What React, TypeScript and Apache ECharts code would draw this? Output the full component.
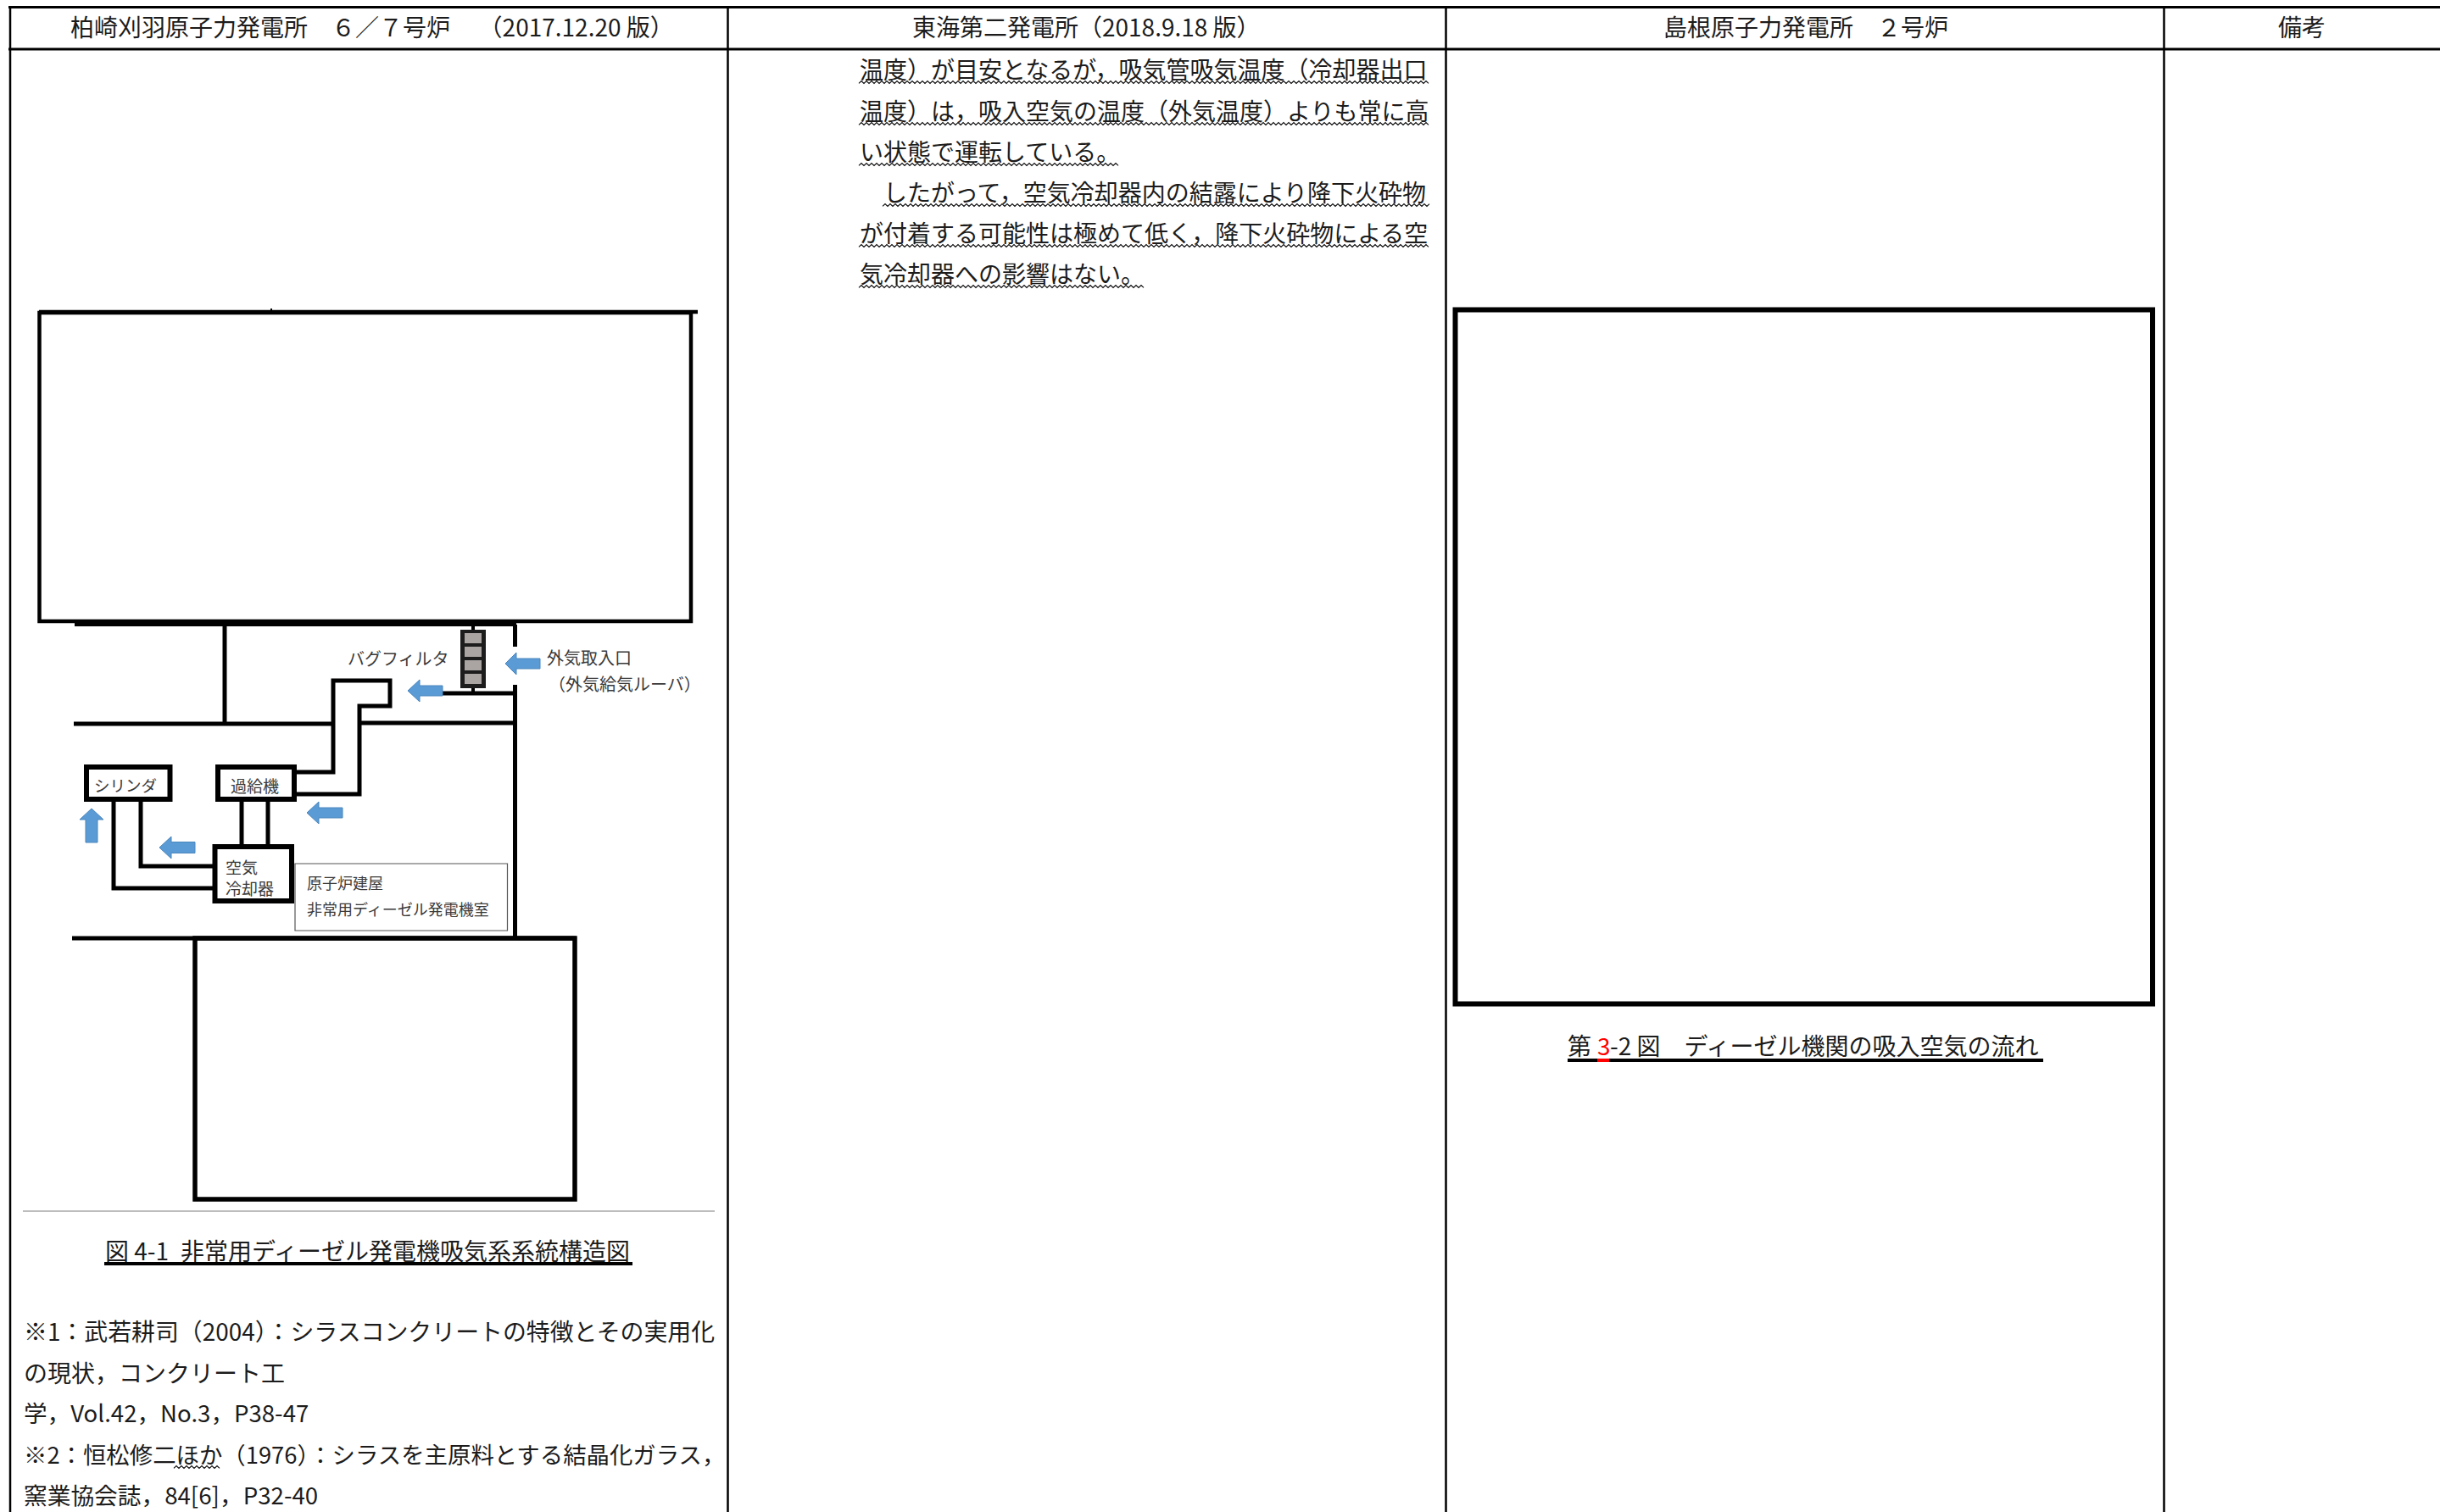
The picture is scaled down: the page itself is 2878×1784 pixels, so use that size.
import React, { useEffect, useRef } from "react";
import * as echarts from "echarts";

const headers = [
  "柏崎刈羽原子力発電所　６／７号炉　\u2009（2017.12.20 版）",
  "東海第二発電所（2018.9.18 版）",
  "島根原子力発電所　２号炉",
  "備考",
];
const tokaiLines = [
  "温度）が目安となるが，吸気管吸気温度（冷却器出口",
  "温度）は，吸入空気の温度（外気温度）よりも常に高",
  "い状態で運転している。",
  "したがって，空気冷却器内の結露により降下火砕物",
  "が付着する可能性は極めて低く，降下火砕物による空",
  "気冷却器への影響はない。",
];
const kkCaption = "図 4-1\u2002非常用ディーゼル発電機吸気系系統構造図";
const kkNotes = [
  "※1：武若耕司（2004）：シラスコンクリートの特徴とその実用化",
  "の現状，コンクリート工",
  "学，Vol.42，No.3，P38-47",
  "※2：恒松修二ほか（1976）：シラスを主原料とする結晶化ガラス，",
  "窯業協会誌，84[6]，P32-40",
];
const shimaneCaption = ["第", "3", "-2 図　ディーゼル機関の吸入空気の流れ"];
const diagramLabels = {
  filter: "バグフィルタ",
  intake: "外気取入口",
  louver: "（外気給気ルーバ）",
  cylinder: "シリンダ",
  turbo: "過給機",
  cooler1: "空気",
  cooler2: "冷却器",
  room1: "原子炉建屋",
  room2: "非常用ディーゼル発電機室",
};

const FONT = '"Noto Sans CJK JP", sans-serif';
const INK = "#1c1c1c";
const BLUE = "#5b9bd5";
const BODY = 28;

type El = Record<string, unknown>;

const txt = (text: string, x: number, y: number, fontSize = BODY, fill = INK): El => ({
  type: "text",
  silent: true,
  style: { text, x, y: y - fontSize * 0.07, fontSize, fontFamily: FONT, fill, align: "left", verticalAlign: "middle" },
});
const ln = (x1: number, y1: number, x2: number, y2: number, lineWidth = 5, stroke = "#000"): El => ({
  type: "line",
  silent: true,
  shape: { x1, y1, x2, y2 },
  style: { stroke, lineWidth },
});
const box = (x1: number, y1: number, x2: number, y2: number, lineWidth = 5, stroke = "#000", fill = "#fff"): El => ({
  type: "rect",
  silent: true,
  shape: { x: x1, y: y1, width: x2 - x1, height: y2 - y1 },
  style: { stroke, lineWidth, fill },
});
const poly = (points: number[][], lineWidth = 5): El => ({
  type: "polyline",
  silent: true,
  shape: { points },
  style: { stroke: "#000", lineWidth, fill: "none", lineJoin: "miter" },
});
const wavy = (x1: number, x2: number, y: number): El => {
  const points: number[][] = [];
  let up = false;
  for (let x = x1; x <= x2; x += 3) {
    points.push([x, y + (up ? -1.4 : 1.4)]);
    up = !up;
  }
  return {
    type: "polyline",
    silent: true,
    shape: { points },
    style: { stroke: "#111", lineWidth: 1.2, fill: "none" },
  };
};
const leftArrow = (tip: number, neck: number, end: number, cy: number, head: number, body: number): El => ({
  type: "polygon",
  silent: true,
  shape: {
    points: [
      [tip, cy],
      [neck, cy - head],
      [neck, cy - body],
      [end, cy - body],
      [end, cy + body],
      [neck, cy + body],
      [neck, cy + head],
    ],
  },
  style: { fill: BLUE, stroke: "#4a86bd", lineWidth: 1 },
});

function buildElements(): El[] {
  const els: El[] = [];

  // table rules
  els.push(ln(10, 8.5, 2878, 8.5, 3));
  els.push(ln(10, 58, 2878, 58, 3));
  [12, 858.5, 1705.5, 2552.5].forEach((x) => els.push(ln(x, 8, x, 1784, 2.5)));

  // header texts
  els.push(txt(headers[0], 83, 33));
  els.push(txt(headers[1], 1076, 33));
  els.push(txt(headers[2], 1962, 33));
  els.push(txt(headers[3], 2687, 33));

  // middle column
  const tokaiY = [83, 132, 180, 228, 276, 324];
  const tokaiX = [1014, 1014, 1014, 1042, 1014, 1014];
  const waveEnd = [1686, 1685, 1321, 1686, 1686, 1350];
  tokaiLines.forEach((t, i) => {
    els.push(txt(t, tokaiX[i], tokaiY[i]));
    els.push(wavy(tokaiX[i] - 1, waveEnd[i], tokaiY[i] + 14));
  });

  // left column: upper and lower masked boxes
  els.push(box(46.5, 369, 815, 733, 4.5));
  els.push(ln(46, 368, 823, 368, 4.5));
  els.push(ln(320, 364, 320, 368, 2));
  els.push(box(230, 1107, 678, 1415, 5.5));

  // building structure
  els.push(ln(88, 736, 609, 736, 6));
  els.push(ln(265, 737, 265, 853));
  els.push(ln(87, 854, 392, 854, 5));
  els.push(ln(424, 853, 608, 853));
  els.push(ln(607.5, 737, 607.5, 763));
  els.push(ln(607.5, 808, 607.5, 1107));
  els.push(ln(85, 1107, 679, 1107, 5));

  // bag filter
  els.push(ln(558, 737, 558, 818, 4));
  els.push(ln(522, 818, 608, 818));
  els.push(box(545, 745, 571, 810, 4, "#1c1c1c", "#1c1c1c"));
  [745, 761, 777, 793].forEach((y) =>
    els.push({
      type: "rect",
      silent: true,
      shape: { x: 548, y: y + 2, width: 20, height: 12 },
      style: { fill: "#aaa5a2" },
    }),
  );

  // ducts
  els.push(poly([[348, 911], [393, 911], [393, 803], [460, 803], [460, 833], [424, 833], [424, 937], [348, 937]]));
  els.push(ln(285, 943, 285, 999));
  els.push(ln(316, 943, 316, 999));
  els.push(poly([[166, 943], [166, 1022], [254, 1022]]));
  els.push(poly([[134, 943], [134, 1048], [254, 1048]]));

  // equipment
  els.push(box(102, 905, 200.5, 943, 6));
  els.push(box(257, 905, 347, 943, 6));
  els.push(box(253.5, 999, 344, 1063, 6));
  els.push(box(348, 1019, 598.5, 1098, 1.2, "#555"));

  // arrows
  els.push(leftArrow(596, 609, 637, 783, 13, 6));
  els.push(leftArrow(481, 495, 522, 815, 13, 6));
  els.push(leftArrow(362, 376, 404, 959, 13, 6));
  els.push(leftArrow(188, 202, 230, 1000, 13, 6.5));
  els.push({
    type: "polygon",
    silent: true,
    shape: { points: [[108, 954], [122, 967], [115, 967], [115, 994], [101, 994], [101, 967], [94, 967]] },
    style: { fill: BLUE, stroke: "#4a86bd", lineWidth: 1 },
  });

  // diagram labels
  const gray = "#3a3a3a";
  els.push(txt(diagramLabels.filter, 410, 778, 20, gray));
  els.push(txt(diagramLabels.intake, 645, 777, 20, gray));
  els.push(txt(diagramLabels.louver, 647, 808, 20, gray));
  els.push(txt(diagramLabels.cylinder, 111, 927, 18.5, gray));
  els.push(txt(diagramLabels.turbo, 272, 928, 19, gray));
  els.push(txt(diagramLabels.cooler1, 266, 1024, 19, gray));
  els.push(txt(diagramLabels.cooler2, 266, 1049, 19, gray));
  els.push(txt(diagramLabels.room1, 362, 1042, 18, gray));
  els.push(txt(diagramLabels.room2, 362, 1073, 18, gray));

  // caption and notes
  els.push(ln(27, 1429, 843, 1429, 2, "#bdbdbd"));
  els.push(txt(kkCaption, 124, 1477));
  els.push(ln(123, 1491, 746, 1491, 4));
  const noteY = [1572, 1621, 1668, 1717, 1765];
  const noteSize = [27.9, 28, 27.6, 27.4, 27.7];
  kkNotes.forEach((t, i) => els.push(txt(t, 28, noteY[i], noteSize[i])));
  els.push(wavy(205, 259, 1731));

  // right diagram
  els.push(box(1716.5, 365.5, 2539, 1184.5, 6));
  els.push(txt(shimaneCaption[0], 1849, 1235));
  els.push(txt(shimaneCaption[1], 1884, 1235, BODY, "#ff0000"));
  els.push(txt(shimaneCaption[2], 1899, 1235));
  els.push(ln(1849, 1251, 2410, 1251, 4));
  els.push(ln(1884, 1251, 1898, 1251, 4, "#ff0000"));

  return els;
}

export default function App() {
  const ref = useRef<HTMLDivElement>(null);
  useEffect(() => {
    document.body.style.margin = "0";
    const chart = echarts.init(ref.current!, undefined, { renderer: "svg" });
    chart.setOption({
      animation: false,
      backgroundColor: "#fff",
      graphic: { elements: buildElements() },
    });
    return () => chart.dispose();
  }, []);
  return <div ref={ref} style={{ position: "absolute", left: 0, top: 0, width: 2878, height: 1784 }} />;
}
